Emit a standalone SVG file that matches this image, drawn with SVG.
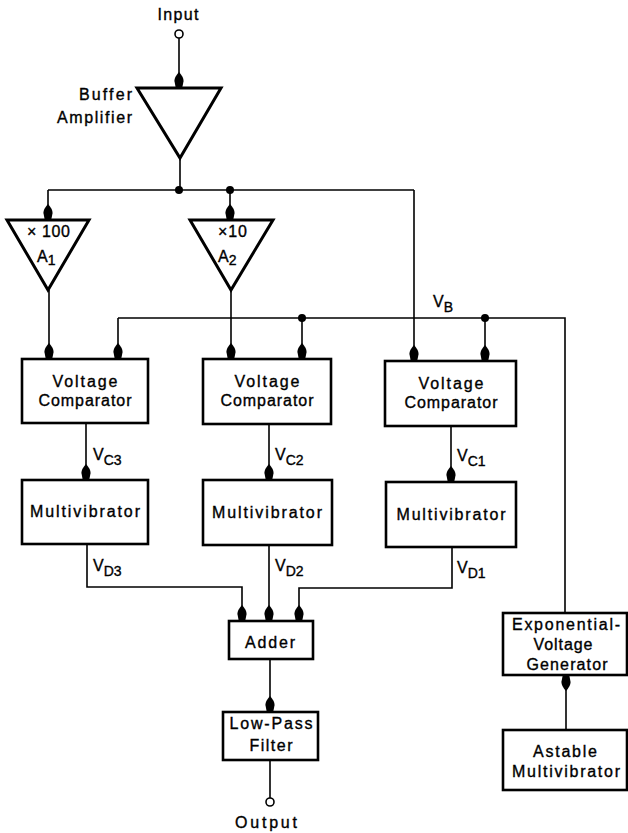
<svg xmlns="http://www.w3.org/2000/svg" width="628" height="833" viewBox="0 0 628 833">
<style>
text{font-family:"Liberation Sans",Arial,sans-serif;font-size:16px;fill:#000;stroke:#000;stroke-width:0.35}
.c{text-anchor:middle}
.r{text-anchor:end}
.sub{font-size:14px}
.box{fill:#fff;stroke:#000;stroke-width:2.6}
.tri{fill:#fff;stroke:#000;stroke-width:3;stroke-linejoin:miter}
.w{fill:none;stroke:#000;stroke-width:1.6}
.a{marker-end:url(#arr)}
.dot{fill:#000}
.term{fill:#fff;stroke:#000;stroke-width:1.6}
</style>
<defs>
<marker id="arr" viewBox="-17 -5 18 10" refX="0" refY="0" markerWidth="18" markerHeight="10" markerUnits="userSpaceOnUse" orient="auto">
<path d="M0,-3.2 L-7,-4.6 Q-11,-4.6 -16,0 Q-11,4.6 -7,4.6 L0,3.2 Z" fill="#000"/>
</marker>
</defs>
<g id="connectors">
<path class="w a" d="M179,38 V88"/>
<path class="w" d="M180,158 V190"/>
<path class="w" d="M48,190 H414"/>
<path class="w a" d="M48,190 V220"/>
<path class="w a" d="M230,190 V220"/>
<path class="w a" d="M49,290 V359"/>
<path class="w a" d="M231,290 V359"/>
<path class="w a" d="M414,190 V361"/>
<path class="w" d="M118,318 H565 V613"/>
<path class="w a" d="M118,318 V359"/>
<path class="w a" d="M302,318 V359"/>
<path class="w a" d="M485,318 V361"/>
<path class="w a" d="M86,423 V480"/>
<path class="w a" d="M269,424 V480"/>
<path class="w a" d="M451,426 V482"/>
<path class="w a" d="M87,544 V587 H242 V621"/>
<path class="w a" d="M269,545 V621"/>
<path class="w a" d="M452,547 V588 H299 V621"/>
<path class="w a" d="M270,659 V712"/>
<path class="w" d="M270,760 V798"/>
<path class="w a" d="M566,730 V675"/>
<circle class="dot" cx="179" cy="190" r="4"/>
<circle class="dot" cx="230" cy="190" r="4"/>
<circle class="dot" cx="302" cy="318" r="4"/>
<circle class="dot" cx="485" cy="318" r="4"/>
</g>
<g id="input">
<text class="c" x="178" y="20" textLength="41">Input</text>
<circle class="term" cx="179" cy="34" r="4"/>
</g>
<g id="buffer">
<polygon class="tri" points="137,88 221,88 180,158"/>
<text class="r" x="132" y="100" textLength="53">Buffer</text>
<text class="r" x="132" y="123" textLength="75">Amplifier</text>
</g>
<g id="a1">
<polygon class="tri" points="7,220 89,220 48,290"/>
<text x="27" y="237" textLength="43">× 100</text>
<text x="37" y="262">A<tspan class="sub" dy="3">1</tspan></text>
</g>
<g id="a2">
<polygon class="tri" points="190,220 273,220 231,290"/>
<text x="218" y="237" textLength="29">×10</text>
<text x="218" y="262">A<tspan class="sub" dy="3">2</tspan></text>
</g>
<g id="vb-label">
<text x="433" y="307">V<tspan class="sub" dy="5">B</tspan></text>
</g>
<g id="comp3">
<rect class="box" x="22" y="359" width="126" height="64"/>
<text class="c" x="85" y="387" textLength="65">Voltage</text>
<text class="c" x="85" y="406" textLength="93">Comparator</text>
</g>
<g id="comp2">
<rect class="box" x="203" y="359" width="128" height="65"/>
<text class="c" x="267" y="387" textLength="65">Voltage</text>
<text class="c" x="267" y="406" textLength="93">Comparator</text>
</g>
<g id="comp1">
<rect class="box" x="385" y="361" width="131" height="65"/>
<text class="c" x="451" y="389" textLength="65">Voltage</text>
<text class="c" x="451" y="408" textLength="93">Comparator</text>
</g>
<g id="vc-labels">
<text x="93" y="460">V<tspan class="sub" dy="5">C3</tspan></text>
<text x="275" y="460">V<tspan class="sub" dy="5">C2</tspan></text>
<text x="457" y="461">V<tspan class="sub" dy="5">C1</tspan></text>
</g>
<g id="multi3">
<rect class="box" x="22" y="480" width="126" height="64"/>
<text class="c" x="85" y="517" textLength="110">Multivibrator</text>
</g>
<g id="multi2">
<rect class="box" x="203" y="480" width="129" height="65"/>
<text class="c" x="267" y="518" textLength="110">Multivibrator</text>
</g>
<g id="multi1">
<rect class="box" x="386" y="482" width="130" height="65"/>
<text class="c" x="451" y="520" textLength="109">Multivibrator</text>
</g>
<g id="vd-labels">
<text x="93" y="571">V<tspan class="sub" dy="5">D3</tspan></text>
<text x="275" y="571">V<tspan class="sub" dy="5">D2</tspan></text>
<text x="457" y="573">V<tspan class="sub" dy="5">D1</tspan></text>
</g>
<g id="adder">
<rect class="box" x="229" y="621" width="84" height="38"/>
<text class="c" x="270" y="648" textLength="50">Adder</text>
</g>
<g id="lpf">
<rect class="box" x="223" y="712" width="95" height="48"/>
<text class="c" x="271" y="729" textLength="83">Low-Pass</text>
<text class="c" x="271" y="751" textLength="43">Filter</text>
</g>
<g id="output">
<circle class="term" cx="270" cy="802" r="4"/>
<text class="c" x="266" y="828" textLength="62">Output</text>
</g>
<g id="expgen">
<rect class="box" x="503" y="613" width="124" height="62"/>
<text class="c" x="566" y="630" textLength="108">Exponential-</text>
<text class="c" x="563" y="650" textLength="59">Voltage</text>
<text class="c" x="567" y="670" textLength="81">Generator</text>
</g>
<g id="astable">
<rect class="box" x="503" y="730" width="124" height="60"/>
<text class="c" x="565" y="757" textLength="64">Astable</text>
<text class="c" x="566" y="777" textLength="108">Multivibrator</text>
</g>
</svg>
